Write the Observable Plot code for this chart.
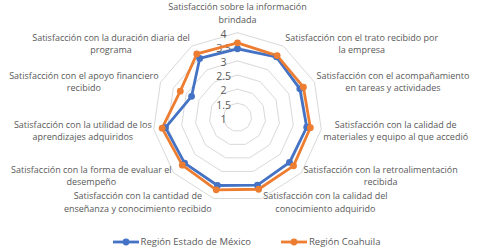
<!DOCTYPE html>
<html><head><meta charset="utf-8">
<script src="https://cdn.jsdelivr.net/npm/d3@7"></script>
<script src="https://cdn.jsdelivr.net/npm/@observablehq/plot@0.6"></script>
<style>
body{margin:0;background:#fff;font-family:"Open Sans",sans-serif;}
#chart svg{display:block;}
#legend{height:19px;display:flex;align-items:center;justify-content:center;gap:30px;font-size:9.5px;color:#595959;padding-left:12px;box-sizing:border-box;}
#legend span.item{display:flex;align-items:center;gap:2px;}
</style></head><body><div id="chart"></div><div id="legend"></div><script>
const categories = [
  "Satisfacción sobre la información\nbrindada",
  "Satisfacción con el trato recibido por\nla empresa",
  "Satisfacción con el acompañamiento\nen tareas y actividades",
  "Satisfacción con la calidad de\nmateriales y equipo al que accedió",
  "Satisfacción con la retroalimentación\nrecibida",
  "Satisfacción con la calidad del\nconocimiento adquirido",
  "Satisfacción con la cantidad de\nenseñanza y conocimiento recibido",
  "Satisfacción con la forma de evaluar el\ndesempeño",
  "Satisfacción con la utilidad de los\naprendizajes adquiridos",
  "Satisfacción con el apoyo financiero\nrecibido",
  "Satisfacción con la duración diaria del\nprograma"
];
const mexico   = [3.43, 3.55, 3.43, 3.48, 3.44, 3.51, 3.52, 3.48, 3.58, 2.79, 3.48];
const coahuila = [3.64, 3.60, 3.57, 3.61, 3.63, 3.66, 3.68, 3.59, 3.70, 3.23, 3.67];
const ticks = [1, 1.5, 2, 2.5, 3, 3.5, 4];
const seriesNames = ["Región Estado de México", "Región Coahuila"];
const colors = ["#4472C4", "#ED7D31"];

const FONT = '"Open Sans", sans-serif';
const LABEL_SIZE = 9;
const W = 481, H = 232;
const cx = 237, cy = 116.8, R = 84.6;
const rMin = ticks[0], rMax = ticks[ticks.length - 1];
const n = categories.length;
const ang = i => i * 2 * Math.PI / n;
const px = (i, v) => (v - rMin) * Math.sin(ang(i));
const py = (i, v) => (v - rMin) * Math.cos(ang(i));

const series = [mexico, coahuila];
const pts = [], lines = [];
series.forEach((vals, s) => {
  vals.forEach((v, i) => pts.push({series: seriesNames[s], i, v, x: px(i, v), y: py(i, v)}));
  [...vals.keys(), 0].forEach(i => lines.push({series: seriesNames[s], x: px(i, vals[i]), y: py(i, vals[i])}));
});
const rings = [];
ticks.filter(t => t > rMin).forEach(t => {
  for (let i = 0; i <= n; i++) rings.push({t, x: px(i % n, t), y: py(i % n, t)});
});

const ctx = document.createElement("canvas").getContext("2d");
ctx.font = `${LABEL_SIZE}px ${FONT}`;
const labelMarks = categories.map((c, i) => {
  const a = ang(i);
  const w = Math.max(...c.split("\n").map(l => ctx.measureText(l).width));
  const s = Math.sin(a);
  const side = Math.abs(s) < 0.01 ? 0 : Math.sign(s);
  const d = {x: px(i, rMax), y: py(i, rMax), c};
  if (side === 0) {
    return Plot.text([d], {x: "x", y: "y", text: "c", textAnchor: "middle", lineAnchor: "bottom", dy: -10, fontSize: LABEL_SIZE, fill: "#595959", lineHeight: 1.36});
  }
  return Plot.text([d], {x: "x", y: "y", text: "c", textAnchor: "middle", lineAnchor: "middle",
    dx: side * (w / 2 + 2), dy: -3.2 * Math.cos(a), fontSize: LABEL_SIZE, fill: "#595959", lineHeight: 1.36});
});

const chart = Plot.plot({
  width: W, height: H, margin: 0,
  style: {fontFamily: FONT, background: "#fff"},
  x: {domain: [-(rMax - rMin), rMax - rMin], range: [cx - R, cx + R], axis: null},
  y: {domain: [-(rMax - rMin), rMax - rMin], range: [cy + R, cy - R], axis: null},
  color: {domain: seriesNames, range: colors},
  marks: [
    Plot.line(rings, {x: "x", y: "y", z: "t", stroke: "#d9d9d9", strokeWidth: 1}),
    Plot.text(ticks, {x: 0, y: t => t - rMin, text: t => String(t), dx: -14, dy: 2, fontSize: 10.5, fill: "#595959", textAnchor: "middle"}),
    Plot.line(lines, {x: "x", y: "y", z: "series", stroke: "series", strokeWidth: 2.8, strokeLinejoin: "round"}),
    Plot.dot(pts, {x: "x", y: "y", fill: "series", r: 3.4, stroke: "none"}),
    ...labelMarks
  ]
});
document.getElementById("chart").append(chart);

const leg = document.getElementById("legend");
seriesNames.forEach((name, k) => {
  const item = document.createElement("span");
  item.className = "item";
  item.innerHTML = `<svg width="26" height="8"><line x1="0" y1="4" x2="26" y2="4" stroke="${colors[k]}" stroke-width="2.8"/><circle cx="13" cy="4" r="3.4" fill="${colors[k]}"/></svg><span>${name}</span>`;
  leg.append(item);
});
</script></body></html>
